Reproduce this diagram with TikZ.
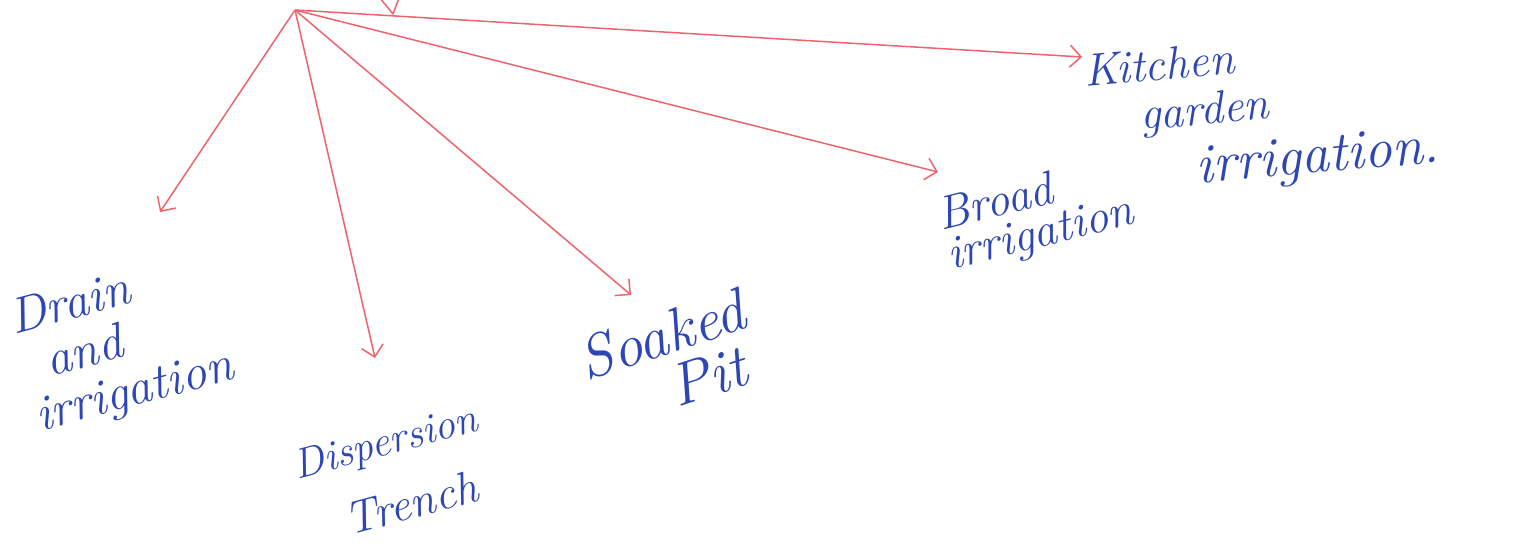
\documentclass[tikz,border=0pt]{standalone}
\usetikzlibrary{arrows.meta}
\definecolor{pen}{RGB}{238,100,110}
\definecolor{ink}{RGB}{45,70,180}
\tikzset{
  conn/.style={pen, line width=1.5pt, -{Straight Barb[length=11pt,width=22pt,line width=1.5pt]}},
  lbl/.style={ink, align=left, inner sep=0pt},
}
\newcommand{\fs}[2]{\fontsize{#1}{#2}\selectfont\itshape}
\begin{document}
\begin{tikzpicture}[x=1pt,y=-1pt]
\useasboundingbox (0,0) rectangle (1517,551);
\fill[white] (0,0) rectangle (1517,551);
\coordinate (hub) at (295,10);
% partial arrowhead at top edge
\coordinate (topa) at (380,-2);
\coordinate (topt) at (393,14);
\coordinate (topb) at (399,-2);
\draw[pen, line width=1.5pt, line join=round] (topa) -- (topt) -- (topb);
% labels
\node[lbl, rotate=15, font=\fs{50}{50}] (drain) at (122,345) {Drain\\\hspace*{24pt}and\\irrigation};
\node[lbl, rotate=15, font=\fs{42}{68}] (disp) at (394,474) {Dispersion\\\hspace*{36pt}{\fontsize{46}{68}\selectfont Trench}};
\node[lbl, rotate=18, font=\fs{60}{54}] (soak) at (670,360) {Soaked\\\hspace*{78pt}Pit};
\node[lbl, rotate=14, font=\fs{47}{40}] (broad) at (1036,216) {Broad\\irrigation};
\node[lbl, rotate=5, font=\fs{46}{48}] (kit) at (1262,114) {Kitchen\\\hspace*{52pt}garden\\[10pt]\hspace*{104pt}{\fontsize{56}{56}\selectfont irrigation.}};
% arrow tips
\coordinate (tkit) at (1082,57);
\coordinate (tbroad) at (938,172);
\coordinate (tsoak) at (631,295);
\coordinate (tdisp) at (375,358);
\coordinate (tdrain) at (160,212);
\draw[conn] (hub) -- (tkit);
\draw[conn] (hub) -- (tbroad);
\draw[conn] (hub) -- (tsoak);
\draw[conn] (hub) -- (tdisp);
\draw[conn] (hub) -- (tdrain);
\end{tikzpicture}
\end{document}
